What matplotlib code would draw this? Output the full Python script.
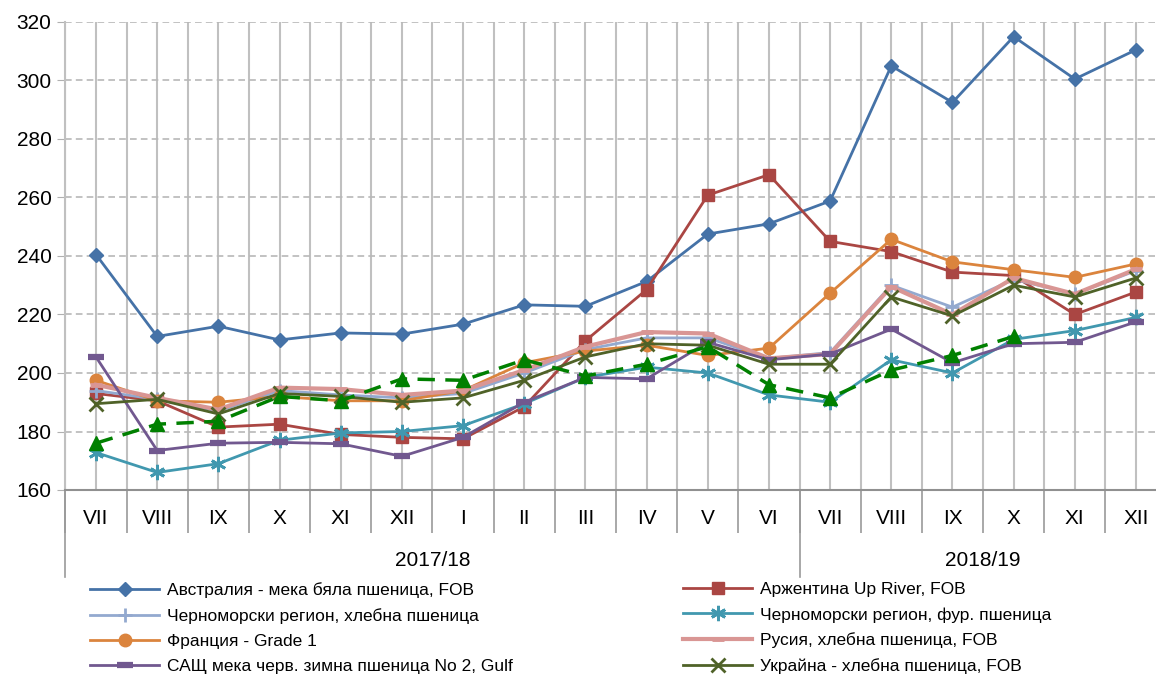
import matplotlib
matplotlib.use("Agg")
import matplotlib.pyplot as plt
import matplotlib.transforms as mtransforms
from matplotlib.lines import Line2D
import numpy as np

plt.rcParams['font.family'] = ['Liberation Sans', 'DejaVu Sans']

months = ["VII", "VIII", "IX", "X", "XI", "XII", "I", "II", "III", "IV", "V", "VI",
          "VII", "VIII", "IX", "X", "XI", "XII"]
seasons = ["2017/18", "2018/19"]

australia = [240.5, 212.5, 216, 211.3, 213.7, 213.3, 216.7, 223.3, 222.8, 231.3, 247.5, 251,
             258.8, 305, 292.5, 315, 300.5, 310.5]
argentina = [193, 190.5, 181.5, 182.5, 179, 178, 177.5, 188.5, 211, 228.5, 260.8, 267.8,
             245, 241.5, 234.5, 233.3, 220, 227.7]
bs_bread = [194, 191, 187, 194, 192.5, 191.5, 193, 200, 208, 212, 212, 205,
            207, 230, 222.5, 232, 227, 235]
bs_feed = [172.8, 166, 169, 177, 179.5, 180, 182, 189.5, 198.5, 202, 200, 192.5,
           190, 204.5, 200, 211.5, 214.5, 219]
france = [197.5, 190.5, 190, 192, 190.5, 190.5, 194, 203.5, 207.5, 209.5, 206, 208.5,
          227.3, 245.7, 238, 235.3, 232.7, 237.3]
russia = [196, 191.5, 187.5, 195, 194.5, 192.5, 194, 201, 209, 214, 213.5, 205,
          206.5, 229.5, 220, 232.5, 227, 235.5]
usa = [205.5, 173.5, 176, 176.3, 175.8, 171.5, 178, 190, 198.5, 198, 210.5, 204.5,
       206.5, 215, 203.5, 210, 210.5, 217.5]
ukraine = [189.5, 191, 186, 193, 192, 190, 191.5, 197.5, 205.5, 210, 209.5, 203,
           203, 226, 219.5, 230, 226, 232.5]
green_dash = [176, 182.5, 183.5, 192, 190.5, 198, 197.5, 204.5, 199, 203, 209, 196,
              191.5, 201, 206, 212.5, np.nan, np.nan]

labels = ["Австралия - мека бяла пшеница, FOB", "Аржентина Up River, FOB",
          "Черноморски регион, хлебна пшеница", "Черноморски регион, фур. пшеница",
          "Франция - Grade 1", "Русия, хлебна пшеница, FOB",
          "САЩ мека черв. зимна пшеница No 2, Gulf", "Украйна - хлебна пшеница, FOB"]

W, H = 1156, 675
fig = plt.figure(figsize=(W / 100, H / 100), dpi=100)
left_px, right_px, top_px, bot_px = 65.4, 1166.6, 22, 490
ax = fig.add_axes([left_px / W, 1 - bot_px / H, (right_px - left_px) / W, (bot_px - top_px) / H])

x = np.arange(len(months))
lw = 2.0
styles = [
    (australia, "#4572A7", "D", 7, labels[0]),
    (argentina, "#AA4643", "s", 9, labels[1]),
    (bs_bread, "#93A9CF", "+", 10, labels[2]),
    (bs_feed, "#4198AF", (6, 2, 0), 11, labels[3]),
    (france, "#DB843D", "o", 9, labels[4]),
    (russia, "#D99694", "_", 8, labels[5]),
    (usa, "#71588F", "_", 11, labels[6]),
    (ukraine, "#4F6228", "x", 10, labels[7]),
]

handles = {}
for data, col, mk, ms, lab in styles:
    mew = 2.0 if mk in ("+", "x", "_") or isinstance(mk, tuple) else 1.0
    if lab == labels[6]:
        mew = 4.5
    if lab == labels[5]:
        mew = 3.5
    h, = ax.plot(x, data, color=col, lw=lw + (1 if lab == labels[5] else 0), marker=mk, ms=ms,
                 mew=mew, mec=col, mfc=col, ls="-", label=lab, zorder=3)
    handles[lab] = h

ax.plot(x, green_dash, color="#008000", lw=2.5, ls=(0, (5, 3)), marker="^", ms=10,
        mfc="#008000", mec="#008000", zorder=4)

ax.set_xlim(-0.5, 17.5)
ax.set_ylim(160, 320)
ax.set_yticks(np.arange(160, 321, 20))
ax.set_xticks(x)
ax.set_xticks(np.arange(-0.5, 18, 1), minor=True)
ax.set_xticklabels(months, fontsize=15)
ax.tick_params(axis="x", which="major", length=0, pad=14)
ax.tick_params(axis="x", which="minor", length=31, color="#9a9a9a", width=1.2)
ax.tick_params(axis="y", length=6, color="#b0b0b0", labelsize=15, pad=4)

ax.grid(axis="y", color="#b8b8b8", ls=(0, (4, 2.5)), lw=1.2)
ax.grid(axis="x", which="both", color="#c0c0c0", ls="-", lw=1.5)
ax.set_axisbelow(True)
for s in ["top", "right"]:
    ax.spines[s].set_visible(False)
ax.spines["left"].set_color("#c0c0c0")
ax.spines["left"].set_linewidth(1.5)
ax.spines["bottom"].set_color("#909090")
ax.spines["bottom"].set_linewidth(1.5)

trans = mtransforms.blended_transform_factory(ax.transData, ax.transAxes)
ax_h = bot_px - top_px
for xv in (-0.5, 11.5):
    ax.add_line(Line2D([xv, xv], [0, -(577 - bot_px) / ax_h], transform=trans,
                       color="#9a9a9a", lw=1.2, clip_on=False))
ax.text(5.5, -(561 - bot_px) / ax_h, seasons[0], transform=trans, ha="center", va="center", fontsize=15)
ax.text(14.5, -(561 - bot_px) / ax_h, seasons[1], transform=trans, ha="center", va="center", fontsize=15)

col1 = [labels[0], labels[2], labels[4], labels[6]]
col2 = [labels[1], labels[3], labels[5], labels[7]]
common = dict(loc="upper left", frameon=False, fontsize=12.5, handlelength=4.0,
              handletextpad=0.45, labelspacing=0.57, borderaxespad=0, borderpad=0)
leg1 = fig.legend([handles[l] for l in col1], col1, bbox_to_anchor=(90 / W, 1 - 582 / H), **common)
leg2 = fig.legend([handles[l] for l in col2], col2, bbox_to_anchor=(683 / W, 1 - 582 / H), **common)

fig.savefig("out.png", dpi=100)
